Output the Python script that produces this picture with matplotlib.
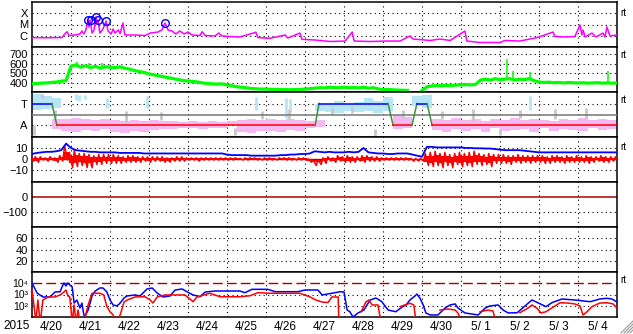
import numpy as np
import matplotlib.pyplot as plt
from matplotlib.lines import Line2D
from matplotlib.ticker import NullLocator

plt.rcParams['font.family'] = ['Liberation Sans', 'DejaVu Sans']

# time axis: days since 2015-04-20 00:00
day_labels = ['4/20', '4/21', '4/22', '4/23', '4/24', '4/25', '4/26', '4/27',
              '4/28', '4/29', '4/30', '5/ 1', '5/ 2', '5/ 3', '5/ 4']

# X-ray flux (log10)
xray_t = [0.00, 0.40, 0.77, 0.82, 0.90, 0.95, 1.10, 1.23, 1.28, 1.33, 1.38, 1.44,
          1.46, 1.49, 1.54, 1.59, 1.64, 1.67, 1.69, 1.74, 1.82, 1.90, 1.95, 2.03,
          2.08, 2.13, 2.21, 2.26, 2.33, 2.38, 2.64, 2.90, 3.03, 3.23, 3.33, 3.41,
          3.49, 3.59, 3.69, 3.79, 3.90, 4.00, 4.10, 4.31, 4.36, 4.44, 4.69, 4.79,
          4.87, 5.08, 5.33, 5.74, 5.79, 6.10, 6.49, 6.56, 6.87, 6.92, 7.26, 7.64,
          8.03, 8.21, 8.26, 8.67, 9.05, 9.44, 9.69, 9.77, 10.21, 10.46, 10.72, 11.10,
          11.15, 11.49, 12.00, 12.13, 12.51, 12.90, 13.03, 13.36, 13.41, 13.67, 13.92, 14.05,
          14.10, 14.13, 14.18, 14.36, 14.46, 14.64, 14.69, 14.74, 14.82, 15.00]
xray_v = [-6.17, -6.18, -6.16, -5.93, -5.64, -5.98, -5.93, -5.84, -5.58, -5.84, -5.49, -4.60,
          -5.22, -4.60, -5.76, -5.49, -4.33, -4.96, -4.60, -5.76, -5.40, -4.69, -5.58, -5.84,
          -5.40, -5.76, -5.49, -5.80, -4.87, -5.93, -5.93, -5.98, -5.76, -5.67, -5.49, -4.87,
          -5.49, -5.58, -5.84, -5.58, -5.84, -5.67, -5.93, -5.98, -5.64, -5.98, -6.02, -5.76,
          -6.02, -6.07, -6.11, -5.69, -6.16, -6.23, -5.93, -6.20, -5.76, -6.32, -6.38, -6.51,
          -6.47, -5.67, -6.47, -6.51, -6.47, -6.47, -6.02, -6.29, -6.42, -6.29, -6.42, -5.58,
          -6.47, -6.60, -6.60, -6.42, -6.47, -6.20, -6.07, -5.67, -6.07, -6.11, -6.07, -5.04,
          -5.93, -5.49, -6.11, -5.76, -6.11, -5.76, -6.11, -5.22, -6.02, -5.93]
flare_t = [1.44, 1.51, 1.65, 1.70, 1.90, 3.41]
flare_v = [-4.60, -4.60, -4.33, -4.60, -4.69, -4.87]

# 3-hourly solar wind speed, IMF Bt, Bz range
nan = np.nan
speed = [392, 395, 398, 400, 405, 410, 418, 425,
         575, 590, 565, 580, 560, 575, 555, 570,
         565, 560, 570, 555, 545, 530, 520, 510,
         495, 485, 475, 465, 455, 445, 435, 425,
         420, 415, 410, 400, 395, 390, 388, 390,
         380, 370, 360, 355, 348, 342, 338, 336,
         335, 333, 333, 330, 330, 328, 330, 332,
         335, 340, 345, 350, 348, 355, 352, 350,
         355, 350, 352, 348, 355, 345, 350, 338,
         330, 332, 328, 325, 323, 322, nan, nan,
         320, 360, 368, 372, 370, 375, 372, 378,
         380, 382, 380, 385, 430, 440, 430, 445,
         435, 440, 445, 430, 440, 435, 445, 425,
         410, 405, 408, 402, 405, 400, 405, 402,
         400, 402, 398, 400, 403, 398, 400, 398,
         400]
speed_spike_t = [1.15, 1.45, 1.80, 12.18, 12.33, 12.77, 14.77]
speed_spike_lo = [575, 565, 570, 440, 435, 440, 400]
speed_spike_hi = [615, 610, 605, 650, 525, 515, 527]

bt = [4.5, 5.5, 6, 6.5, 6.5, 7, 8, 14,
      10, 8, 7.5, 7, 6.5, 6.5, 6, 6,
      6, 6, 5.5, 5.5, 5.5, 5.5, 5.5, 5,
      5, 5, 5, 5, 5, 5, 5, 5,
      5, 5, 5, 5, 5, 5, 5, 5,
      4, 3.5, 3.5, 3.5, 3.5, 3, 3, 3,
      3, 3, 3, 3.5, 3.5, 4, 4, 4.5,
      4.5, 5, 7, 6.5, 6, 6.5, 6, 6,
      6, 6.5, 6, 6.5, 10, 6, 5.5, 5,
      5, 4.5, 4.5, 5, 5, 5, 4, 3,
      2, 11, 11, 10.5, 10.5, 10.5, 10.5, 10.5,
      10.5, 10, 10, 9.7, 9.7, 9.5, 9.5, 9,
      8.5, 8, 8, 8, 8, 7.5, 7, 6.5,
      6, 6, 6, 6, 6, 6, 6, 6,
      6, 6, 6, 6, 6, 6, 6, 6,
      6]
bz_hi = [2, 2, 2, 1, 2, 1, 3, 12,
         6, 8, 5, 5, 4, 3, 4, 4,
         4, 4, 3, 2, 3, 3, 2, 2,
         2, 2, 2, 2, 1, 1, 2, 2,
         1, 1, 1, 1, 1, 1, 1, 1,
         1, 1, 1, 0.5, 1, 1, 1, 0.5,
         1, 1, 0.5, 1, 1, 1, 0.5, 1,
         1, 0, -1, -1, 1, 2, 1, 3,
         2, 3, 2, 2, 3, 3, 2, 2,
         1, 1, 1, 1, 1, 1, 0.5, 0.5,
         0.5, 5, 6, 7, 5, 6, 4, 5,
         6, 5, 6, 7, 5, 4, 5, 4,
         4, 4, 3, 3, 4, 3, 3, 3,
         3, 3, 2, 3, 3, 2, 3, 2,
         3, 2, 3, 2, 2, 3, 2, 2,
         2]
bz_lo = [-2, -3, -1, -2, -1, -3, -2, -1,
         -8, -7, -6, -8, -8, -5, -5, -4,
         -4, -4, -4, -3, -3, -3, -3, -2,
         -3, -2, -2, -3, -3, -2, -2, -2,
         -1, -1, -2, -1, -1, -1, -1, -1,
         -1, -1, -0.5, -1, -1, -0.5, -1, -1,
         -1, -1, -1, -0.5, -1, -1, -1, -1,
         -1, -3, -6, -5, -4, -2, -3, -2,
         -3, -3, -3, -2, -3, -2, -2, -2,
         -1, -1, -1, -1, -1, -1, -2, -2,
         -2, -6, -7, -6, -8, -6, -8, -5,
         -7, -6, -7, -5, -6, -5, -7, -4,
         -4, -4, -5, -3, -4, -3, -4, -3,
         -3, -4, -4, -3, -3, -4, -3, -3,
         -3, -3, -4, -3, -2, -3, -3, -2,
         -2]

# IMF sector (+1 toward, -1 away)
sector_t = [0, 0.51, 0.64, 7.26, 7.36, 9.13, 9.26, 9.74, 9.87, 10.13, 10.26, 15]
sector_v = [1, 1, -1, -1, 1, 1, -1, -1, 1, 1, -1, -1]

# 6-hour bins of the angle cloud (nan = none)
pink_hi = [nan, nan, -0.4, -0.4, -0.3, -0.4, -0.5, -0.4, -0.5, -0.6,
           -0.5, -0.6, -0.5, -0.6, -0.6, -0.7, -0.6, -0.7, -0.6, -0.7,
           -0.6, -0.5, -0.4, -0.5, -0.4, -0.5, -0.4, -0.5, -0.6, -0.5,
           nan, nan, nan, nan, nan, nan, nan, 0.0, -0.2, nan,
           nan, -0.4, -0.5, -0.3, -0.5, -0.4, -0.6, -0.4, -0.5, -0.3,
           -0.5, -0.4, -0.5, -0.6, -0.4, -0.5, -0.3, -0.5, -0.4, -0.5]
pink_lo = [nan, nan, -1.3, -1.5, -1.6, -1.4, -1.5, -1.3, -1.6, -1.7,
           -1.5, -1.6, -1.4, -1.3, -1.3, -1.2, -1.2, -1.3, -1.2, -1.2,
           -1.0, -1.6, -1.7, -1.5, -1.5, -1.6, -1.4, -1.5, -1.2, -1.1,
           nan, nan, nan, nan, nan, nan, nan, -1.3, -1.2, nan,
           nan, -1.4, -1.6, -1.3, -1.5, -1.3, -1.6, -1.2, -1.5, -1.4,
           -1.3, -1.6, -1.2, -1.5, -1.3, -1.4, -1.5, -1.2, -1.4, -1.3]
cyan_bin = [0, 1, 2, 29, 30, 31, 32, 33, 34, 35, 36, 39, 40]
cyan_lo = [0.4, 0.5, 0.6, 0.3, 0.2, 0.1, 0.3, 0.2, 0.3, 0.1, 0.3, 0.8, 0.6]
cyan_hi = [1.9, 1.7, 1.5, 1.0, 1.0, 1.2, 1.0, 1.1, 1.5, 1.2, 1.6, 1.7, 1.8]
cyan_st = [1.12, 1.20, 1.36, 1.92, 2.95, 5.75, 6.52, 6.62, 12.77]
cyan_slo = [1.3, 1.2, 1.4, 0.6, 0.6, 0.4, -0.3, 0.2, 0.4]
cyan_shi = [1.9, 1.8, 1.8, 1.5, 1.7, 1.6, 1.5, 1.4, 1.7]
gray_t = [0.05, 0.25, 0.60, 2.40, 3.30, 5.20, 5.90, 6.60, 7.70, 8.20, 8.80,
          9.50, 10.50, 11.30, 12.00, 12.50, 13.40, 14.20]
gray_lo = [-1.9, 1.5, -0.3, -0.8, -0.5, -1.9, -0.4, -0.5, 0.0, 0.1, -2.0,
           -0.3, -0.4, -0.6, -1.9, -0.3, -0.4, -0.3]
gray_hi = [-1.0, 1.9, 0.4, 0.3, 0.2, -1.2, 0.3, 0.5, 0.6, 0.7, -1.3,
           0.4, 0.3, 0.5, -1.3, 0.4, 0.5, 0.6]

# electron flux (log10)
e_hi_t = [0, 0.13, 0.28, 0.46, 0.59, 0.72, 0.77, 0.82, 0.87, 0.92, 0.97, 1.03,
          1.08, 1.15, 1.23, 1.28, 1.33, 1.36, 1.44, 1.54, 1.62, 1.74, 1.82, 1.92,
          2.0, 2.08, 2.18, 2.26, 2.36, 2.44, 2.64, 2.77, 2.95, 3.08, 3.21, 3.36,
          3.54, 3.67, 3.85, 3.97, 4.13, 4.31, 4.44, 4.69, 5.33, 5.46, 5.64, 6.05,
          6.23, 6.82, 7.0, 7.33, 7.44, 7.69, 7.90, 8.0, 8.08, 8.15, 8.23, 8.36,
          8.51, 8.67, 8.82, 8.97, 9.13, 9.33, 9.49, 9.59, 9.69, 9.82, 9.87, 9.95,
          10.03, 10.10, 10.21, 10.41, 10.59, 10.72, 10.85, 10.92, 11.10, 11.44, 11.62, 11.74,
          11.95, 12.08, 12.21, 12.44, 12.62, 12.82, 12.97, 13.18, 13.33, 13.59, 13.92, 14.31,
          14.56, 14.74, 14.87, 15.0]
e_hi_v = [4.02, 3.13, 2.78, 2.78, 3.22, 3.25, 3.67, 4.02, 3.76, 4.02, 3.84, 3.67,
          2.24, 2.51, 1.80, 2.24, 1.18, 1.09, 1.62, 2.87, 3.31, 3.58, 3.58, 3.22,
          2.51, 2.07, 1.98, 2.24, 2.69, 2.87, 2.96, 2.87, 3.49, 3.58, 3.13, 2.78,
          2.87, 3.40, 3.49, 3.25, 2.96, 2.80, 3.22, 3.31, 3.31, 3.16, 3.46, 3.46,
          3.25, 3.25, 3.40, 3.40, 2.96, 3.11, 3.25, 3.22, 1.62, 1.47, 1.00, 1.36,
          1.62, 2.51, 2.69, 2.36, 1.62, 1.47, 1.89, 2.07, 2.51, 2.87, 3.04, 2.66,
          2.07, 1.36, 1.18, 1.18, 1.80, 2.07, 2.16, 1.80, 1.36, 1.18, 1.80, 1.98,
          2.07, 1.62, 1.36, 1.38, 1.92, 2.51, 2.27, 1.92, 2.27, 2.60, 2.51, 2.36,
          2.60, 2.66, 2.60, 2.33]
e_lo_t = [0, 0.05, 0.10, 0.15, 0.21, 0.28, 0.41, 0.59, 0.72, 0.82, 0.87, 0.92,
          0.97, 1.03, 1.08, 1.13, 1.18, 1.23, 1.33, 1.44, 1.54, 1.74, 1.84, 1.92,
          2.0, 2.08, 2.15, 2.26, 2.36, 2.44, 2.64, 2.90, 3.03, 3.10, 3.21, 3.41,
          3.92, 4.05, 4.13, 4.23, 4.56, 4.82, 5.33, 5.59, 5.79, 6.10, 6.87, 7.13,
          7.28, 7.44, 7.59, 7.69, 7.85, 7.87, 7.88, 8.44, 8.56, 8.64, 8.72, 8.87,
          8.95, 8.96, 9.44, 9.56, 9.69, 9.79, 9.85, 9.86, 10.46, 10.67, 10.85, 10.92,
          11.03, 11.04, 11.49, 11.69, 11.82, 11.90, 11.91, 12.51, 12.72, 12.82, 12.95, 13.05,
          13.18, 13.33, 13.54, 13.74, 13.92, 14.05, 14.13, 14.23, 14.36, 14.56, 14.74, 14.90,
          15.0]
e_lo_v = [3.40, 2.07, 0.50, 2.51, 0.50, 2.51, 2.78, 2.78, 2.96, 3.22, 3.40, 2.87,
          2.78, 0.50, 2.07, 0.50, 1.62, 0.50, 0.50, 2.07, 3.11, 3.11, 2.96, 1.92,
          1.47, 1.18, 0.50, 1.18, 2.33, 2.51, 2.78, 2.80, 2.51, 2.24, 2.78, 2.96,
          2.96, 2.60, 2.36, 2.78, 3.11, 2.80, 2.80, 2.89, 3.16, 3.11, 3.11, 2.78,
          2.51, 2.33, 2.29, 2.78, 2.78, 0.50, nan, 1.47, 2.33, 2.51, 2.07, 2.07,
          0.50, nan, 1.92, 2.07, 2.22, 2.07, 0.50, nan, 1.62, 1.71, 1.62, 1.36,
          0.50, nan, 1.47, 1.62, 1.53, 0.50, nan, 1.38, 1.80, 2.07, 1.77, 1.36,
          1.47, 1.80, 2.27, 2.24, 2.16, 1.98, 1.18, 1.47, 1.92, 2.24, 2.27, 2.16,
          1.80]

DOT = (0, (1, 3))
FS = 8
t3 = np.arange(len(speed)) * 0.125

fig = plt.figure(figsize=(6.33, 3.34), dpi=100)
axes = []
for i in range(7):
    top = 2 + 45 * i
    ax = fig.add_axes([32 / 633, 1 - (top + 45) / 334, 585 / 633, 45 / 334])
    ax.set_xlim(0, 15)
    ax.set_xticks([])
    for s in ax.spines.values():
        s.set_linewidth(1.1)
    ax.tick_params(axis='y', length=0, pad=3, labelsize=FS)
    for d in range(1, 15):
        ax.axvline(d, color='k', lw=0.8, ls=DOT, zorder=1)
    axes.append(ax)


def hgrid(ax, vals):
    for v in vals:
        ax.axhline(v, color='k', lw=0.8, ls=DOT, zorder=1)


# X-ray
ax = axes[0]
ax.set_yscale('log')
ax.set_ylim(1e-7, 1e-3)
ax.yaxis.set_minor_locator(NullLocator())
ax.set_yticks([1e-6, 1e-5, 1e-4], ['C', 'M', 'X'])
hgrid(ax, [1e-6, 1e-5, 1e-4])
ax.plot(xray_t, 10 ** np.array(xray_v), color='#ff00ff', lw=1.1, zorder=3)
ax.plot(flare_t, 10 ** np.array(flare_v), 'o', ms=5.5, mfc='none', mec='#0000ff', mew=1, zorder=4)

# solar wind speed
ax = axes[1]
ax.set_ylim(305, 777)
ax.set_yticks([400, 500, 600, 700])
hgrid(ax, [400, 500, 600, 700])
ax.plot(t3, speed, color='#00ff00', lw=2.3, zorder=3)
ax.vlines(speed_spike_t, speed_spike_lo, speed_spike_hi, color='#00ff00', lw=1.1, zorder=3)

# IMF sector
ax = axes[2]
ax.set_ylim(-2.05, 2.05)
ax.set_yticks([-1, 1], ['A', 'T'])
hgrid(ax, [-1, 1])
for b, (hi, lo) in enumerate(zip(pink_hi, pink_lo)):
    if not np.isnan(hi):
        ax.fill_between([b * 0.25, b * 0.25 + 0.25], lo, hi, color='#f5b8f2', lw=0, zorder=2)
for b, lo, hi in zip(cyan_bin, cyan_lo, cyan_hi):
    ax.fill_between([b * 0.25, b * 0.25 + 0.25], lo, hi, color='#b4e6f6', lw=0, zorder=2)
ax.vlines(cyan_st, cyan_slo, cyan_shi, color='#b4e6f6', lw=2, zorder=2)
ax.vlines(gray_t, gray_lo, gray_hi, color='#c8c8c8', lw=2, zorder=2)
ax.axhline(0, color='#808080', lw=1.2, zorder=3)
for k in range(len(sector_t) - 1):
    v0, v1 = sector_v[k], sector_v[k + 1]
    c = ('#0000ff' if v0 > 0 else '#ff0000') if v0 == v1 else '#3f8f3f'
    ax.plot(sector_t[k:k + 2], sector_v[k:k + 2], color=c, lw=1.1, zorder=4)

# IMF Bt / Bz : Bz drawn as hi/lo excursions inside each 3-hour bin
ax = axes[3]
ax.set_ylim(-21, 20)
ax.set_yticks([-10, 0, 10])
hgrid(ax, [-10, 10])
ax.axhline(0, color='#aa0000', lw=1, zorder=2)
zz_t = np.ravel(np.column_stack([t3 - 0.04, t3 + 0.04]))
zz_v = np.ravel(np.column_stack([bz_hi, bz_lo]))
ax.plot(zz_t, zz_v, color='#ff0000', lw=1.1, zorder=3)
ax.fill_between(t3, np.array(bz_lo) * 0.5, np.array(bz_hi) * 0.5, step='mid',
                color='#ff0000', lw=0, zorder=3)
ax.plot(t3, bt, color='#0000ff', lw=1.3, zorder=4)

# Dst
ax = axes[4]
ax.set_ylim(-200, 100)
ax.set_yticks([-100, 0])
hgrid(ax, [-100])
ax.axhline(0, color='#aa0000', lw=1.1, zorder=2)

# Kp-like panel
ax = axes[5]
ax.set_ylim(0, 80)
ax.set_yticks([20, 40, 60])
hgrid(ax, [20, 40, 60])

# electron flux
ax = axes[6]
ax.set_yscale('log')
ax.set_ylim(1e1, 1e5)
ax.yaxis.set_minor_locator(NullLocator())
ax.set_yticks([1e2, 1e3, 1e4], ['10²', '10³', '10⁴'])
ax.tick_params(axis='y', labelsize=7.5)
hgrid(ax, [1e2, 1e3])
ax.axhline(1e4, color='#aa0000', lw=1, ls=(0, (7, 3)), zorder=2)
ax.plot(e_hi_t, 10 ** np.array(e_hi_v), color='#0000ff', lw=1.1, zorder=3)
ax.plot(e_lo_t, 10 ** np.array(e_lo_v), color='#ff0000', lw=1.1, zorder=4)
ax.set_xticks(np.arange(15) + 0.5, day_labels)
ax.tick_params(axis='x', length=0, pad=3, labelsize=FS + 0.5)

fig.text(17 / 633, 1 - 320 / 334, '2015', ha='center', va='top', fontsize=FS + 0.5)
for y in [13, 55, 100, 147, 280]:
    fig.text(620 / 633, 1 - y / 334, 'rt', fontsize=7, ha='left', va='center')
for k in range(4):
    fig.add_artist(Line2D([(621 + 3 * k) / 633, 633 / 633],
                          [1 - 333 / 334, 1 - (333 - 12 + 3 * k) / 334],
                          color='#999999', lw=0.8))

fig.savefig('out.png', dpi=100)
